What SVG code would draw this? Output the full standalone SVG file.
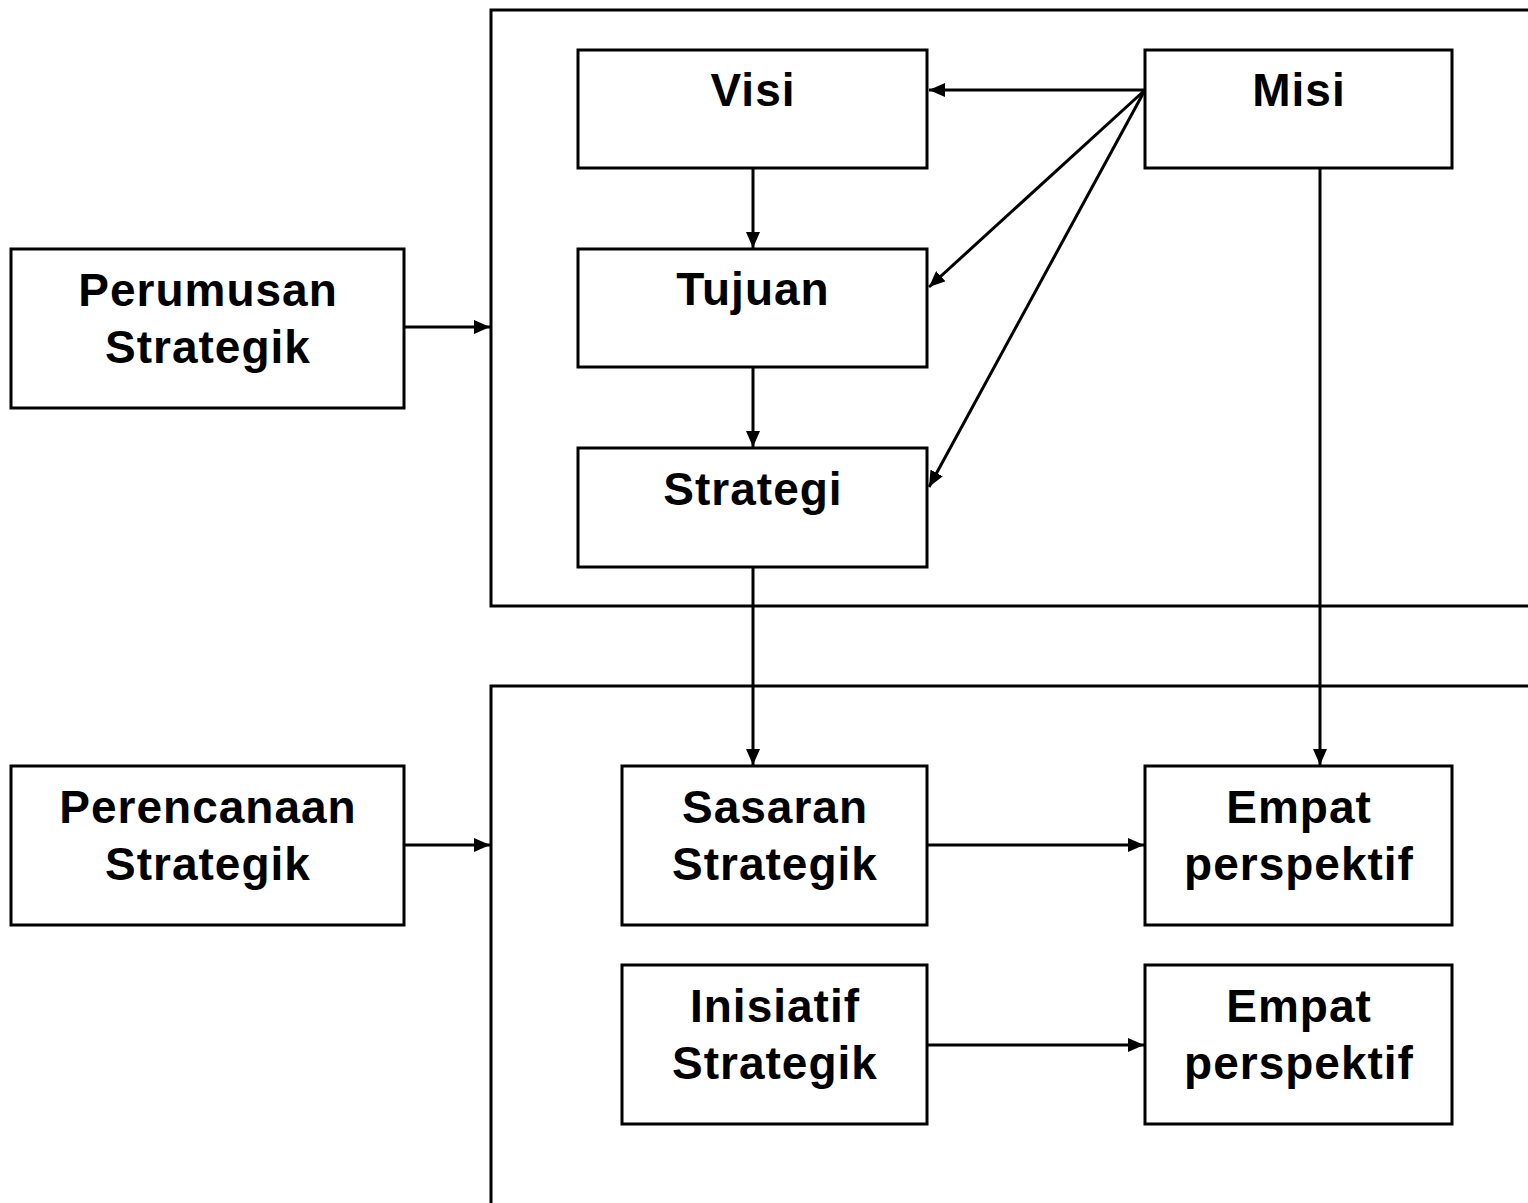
<svg xmlns="http://www.w3.org/2000/svg" width="1528" height="1203" viewBox="0 0 1528 1203">
<style>
.b{fill:#fff;stroke:#000;stroke-width:3}
.c{fill:none;stroke:#000;stroke-width:3}
.t{font-family:"Liberation Sans",Arial,sans-serif;font-weight:bold;font-size:46px;letter-spacing:1px;fill:#000;text-anchor:middle}
.l{fill:none;stroke:#000;stroke-width:3}
</style>
<defs>
<marker id="a" markerUnits="userSpaceOnUse" markerWidth="17" markerHeight="14" refX="16" refY="7" orient="auto">
<path d="M0,0 L16,7 L0,14 Z" fill="#000"/>
</marker>
</defs>
<g id="container-top"><rect class="c" x="491" y="10" width="1045" height="596"/></g>
<g id="container-bottom"><rect class="c" x="491" y="686" width="1045" height="530"/></g>
<g id="perumusan"><rect class="b" x="11" y="249" width="393" height="159"/><text class="t" x="208" y="306">Perumusan</text><text class="t" x="208" y="363">Strategik</text></g>
<g id="perencanaan"><rect class="b" x="11" y="766" width="393" height="159"/><text class="t" x="208" y="823">Perencanaan</text><text class="t" x="208" y="880">Strategik</text></g>
<g id="visi"><rect class="b" x="578" y="50" width="349" height="118"/><text class="t" x="753" y="106">Visi</text></g>
<g id="misi"><rect class="b" x="1145" y="50" width="307" height="118"/><text class="t" x="1299" y="106">Misi</text></g>
<g id="tujuan"><rect class="b" x="578" y="249" width="349" height="118"/><text class="t" x="753" y="305">Tujuan</text></g>
<g id="strategi"><rect class="b" x="578" y="448" width="349" height="119"/><text class="t" x="753" y="505">Strategi</text></g>
<g id="sasaran"><rect class="b" x="622" y="766" width="305" height="159"/><text class="t" x="775" y="823">Sasaran</text><text class="t" x="775" y="880">Strategik</text></g>
<g id="empat1"><rect class="b" x="1145" y="766" width="307" height="159"/><text class="t" x="1299" y="823">Empat</text><text class="t" x="1299" y="880">perspektif</text></g>
<g id="inisiatif"><rect class="b" x="622" y="965" width="305" height="159"/><text class="t" x="775" y="1022">Inisiatif</text><text class="t" x="775" y="1079">Strategik</text></g>
<g id="empat2"><rect class="b" x="1145" y="965" width="307" height="159"/><text class="t" x="1299" y="1022">Empat</text><text class="t" x="1299" y="1079">perspektif</text></g>
<g id="connectors">
<line class="l" x1="1145" y1="90" x2="929" y2="90" marker-end="url(#a)"/>
<line class="l" x1="1145" y1="90" x2="929" y2="287" marker-end="url(#a)"/>
<line class="l" x1="1145" y1="90" x2="929" y2="487" marker-end="url(#a)"/>
<line class="l" x1="753" y1="168" x2="753" y2="248" marker-end="url(#a)"/>
<line class="l" x1="753" y1="367" x2="753" y2="447" marker-end="url(#a)"/>
<line class="l" x1="753" y1="567" x2="753" y2="765" marker-end="url(#a)"/>
<line class="l" x1="1320" y1="168" x2="1320" y2="765" marker-end="url(#a)"/>
<line class="l" x1="404" y1="327" x2="490" y2="327" marker-end="url(#a)"/>
<line class="l" x1="404" y1="845" x2="490" y2="845" marker-end="url(#a)"/>
<line class="l" x1="927" y1="845" x2="1144" y2="845" marker-end="url(#a)"/>
<line class="l" x1="927" y1="1045" x2="1144" y2="1045" marker-end="url(#a)"/>
</g>
</svg>
